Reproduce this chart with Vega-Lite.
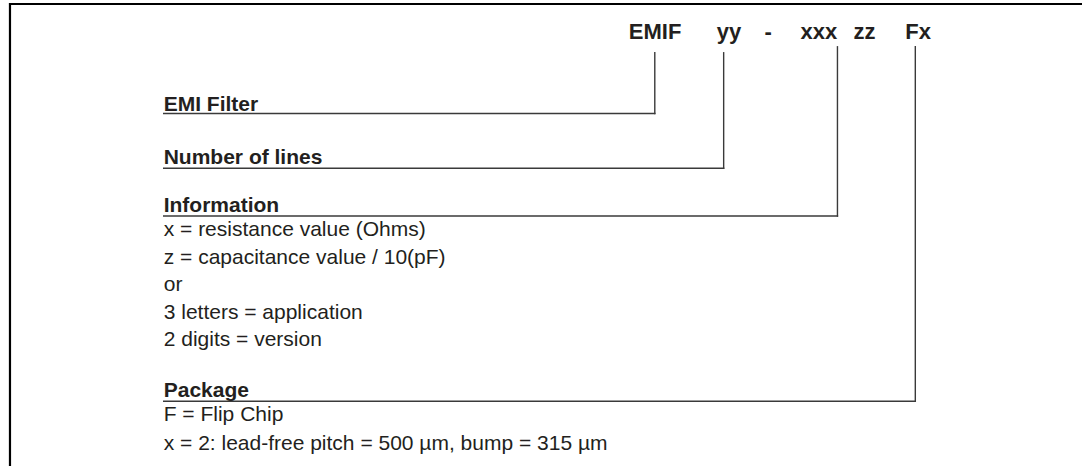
{
  "$schema": "https://vega.github.io/schema/vega-lite/v6.json",
  "width": 1084,
  "height": 468,
  "autosize": {"type": "fit", "contains": "padding"},
  "padding": 0,
  "background": "white",
  "config": {"view": {"stroke": null}},
  "datasets": {
    "frame": [
      {"x": 9, "y": 4, "x2": 1084, "y2": 4},
      {"x": 10, "y": 3, "x2": 10, "y2": 468}
    ],
    "connectors": [
      {"part": "EMIF", "x0": 164, "xv": 656, "ytop": 53, "yh": 114},
      {"part": "yy", "x0": 164, "xv": 725, "ytop": 53, "yh": 169},
      {"part": "xxx", "x0": 164, "xv": 839, "ytop": 47, "yh": 217},
      {"part": "Fx", "x0": 164, "xv": 917, "ytop": 47, "yh": 403}
    ],
    "header": [
      {"t": "EMIF", "x": 630, "y": 39},
      {"t": "yy", "x": 718, "y": 39},
      {"t": "-", "x": 766, "y": 39},
      {"t": "xxx", "x": 802, "y": 39},
      {"t": "zz", "x": 855, "y": 39},
      {"t": "Fx", "x": 907, "y": 39}
    ],
    "labels": [
      {"t": "EMI Filter", "x": 164, "y": 111},
      {"t": "Number of lines", "x": 164, "y": 165},
      {"t": "Information", "x": 164, "y": 213},
      {"t": "Package", "x": 164, "y": 399}
    ],
    "body": [
      {"t": "x = resistance value (Ohms)", "x": 164, "y": 237},
      {"t": "z = capacitance value / 10(pF)", "x": 164, "y": 265},
      {"t": "or", "x": 164, "y": 292},
      {"t": "3 letters = application", "x": 164, "y": 320},
      {"t": "2 digits = version", "x": 164, "y": 347},
      {"t": "F = Flip Chip", "x": 164, "y": 423},
      {"t": "x = 2: lead-free pitch = 500 µm, bump = 315 µm", "x": 164, "y": 452}
    ]
  },
  "layer": [
    {
      "data": {"name": "frame"},
      "mark": {"type": "rule", "color": "#000000", "strokeWidth": 2.2},
      "encoding": {
        "x": {"field": "x", "type": "quantitative", "scale": {"domain": [0, 1084], "nice": false, "zero": false}, "axis": null},
        "x2": {"field": "x2"},
        "y": {"field": "y", "type": "quantitative", "scale": {"domain": [0, 468], "nice": false, "zero": false, "reverse": true}, "axis": null},
        "y2": {"field": "y2"}
      }
    },
    {
      "data": {"name": "connectors"},
      "mark": {"type": "rule", "color": "#3a3a3a", "strokeWidth": 1.4, "strokeCap": "square"},
      "encoding": {
        "x": {"field": "xv", "type": "quantitative", "scale": {"domain": [0, 1084], "nice": false, "zero": false}, "axis": null},
        "y": {"field": "ytop", "type": "quantitative", "scale": {"domain": [0, 468], "nice": false, "zero": false, "reverse": true}, "axis": null},
        "y2": {"field": "yh"}
      }
    },
    {
      "data": {"name": "connectors"},
      "mark": {"type": "rule", "color": "#3a3a3a", "strokeWidth": 1.4, "strokeCap": "square"},
      "encoding": {
        "x": {"field": "x0", "type": "quantitative", "scale": {"domain": [0, 1084], "nice": false, "zero": false}, "axis": null},
        "x2": {"field": "xv"},
        "y": {"field": "yh", "type": "quantitative", "scale": {"domain": [0, 468], "nice": false, "zero": false, "reverse": true}, "axis": null}
      }
    },
    {
      "data": {"name": "header"},
      "mark": {"type": "text", "align": "left", "baseline": "alphabetic", "font": "Liberation Sans", "fontWeight": "bold", "fontSize": 22, "color": "#231f20"},
      "encoding": {
        "x": {"field": "x", "type": "quantitative", "scale": {"domain": [0, 1084], "nice": false, "zero": false}, "axis": null},
        "y": {"field": "y", "type": "quantitative", "scale": {"domain": [0, 468], "nice": false, "zero": false, "reverse": true}, "axis": null},
        "text": {"field": "t"}
      }
    },
    {
      "data": {"name": "labels"},
      "mark": {"type": "text", "align": "left", "baseline": "alphabetic", "font": "Liberation Sans", "fontWeight": "bold", "fontSize": 21, "color": "#231f20"},
      "encoding": {
        "x": {"field": "x", "type": "quantitative", "scale": {"domain": [0, 1084], "nice": false, "zero": false}, "axis": null},
        "y": {"field": "y", "type": "quantitative", "scale": {"domain": [0, 468], "nice": false, "zero": false, "reverse": true}, "axis": null},
        "text": {"field": "t"}
      }
    },
    {
      "data": {"name": "body"},
      "mark": {"type": "text", "align": "left", "baseline": "alphabetic", "font": "Liberation Sans", "fontSize": 21, "color": "#231f20"},
      "encoding": {
        "x": {"field": "x", "type": "quantitative", "scale": {"domain": [0, 1084], "nice": false, "zero": false}, "axis": null},
        "y": {"field": "y", "type": "quantitative", "scale": {"domain": [0, 468], "nice": false, "zero": false, "reverse": true}, "axis": null},
        "text": {"field": "t"}
      }
    }
  ]
}
